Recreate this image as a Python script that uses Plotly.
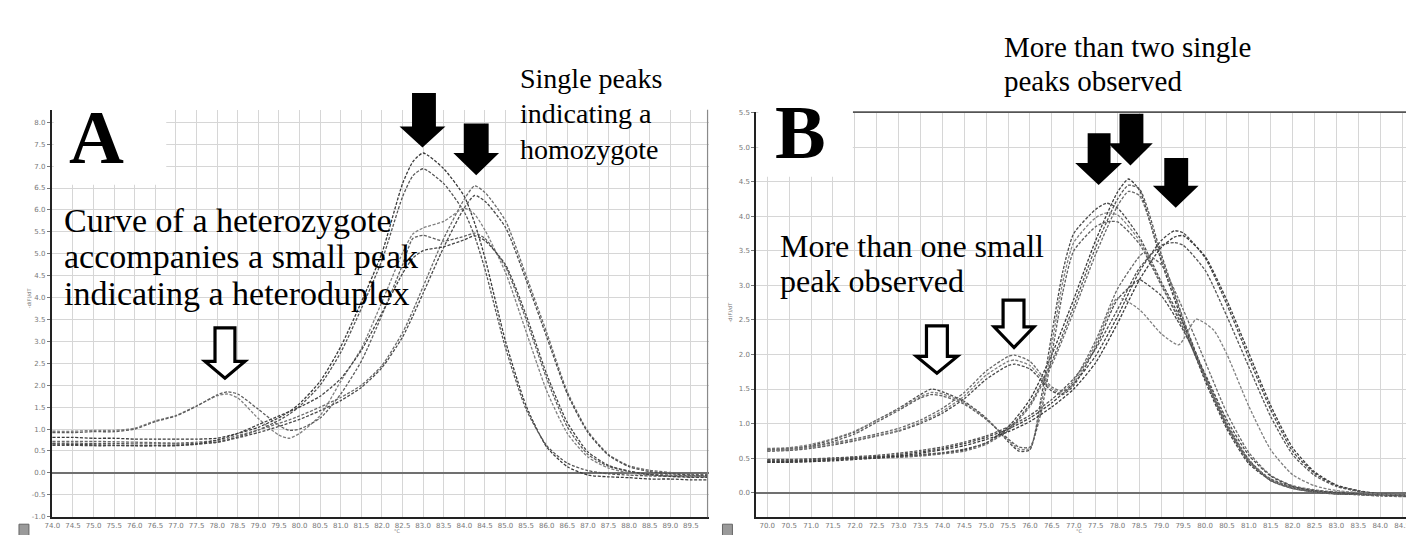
import plotly.graph_objects as go

W, H = 1414, 535

# ---------------- Panel A data ----------------
A_T = [74.0, 74.5, 75.0, 75.5, 76.0, 76.5, 77.0, 77.5, 78.0, 78.25, 78.5, 79.0, 79.5, 79.75,
       80.0, 80.5, 81.0, 81.5, 82.0, 82.5, 82.75, 83.0, 83.5, 84.0, 84.25, 84.5, 85.0, 85.5,
       86.0, 86.5, 87.0, 87.5, 88.0, 88.5, 89.0, 89.5, 89.9]
A_hom1 = [0.81, 0.81, 0.79, 0.79, 0.77, 0.77, 0.77, 0.77, 0.79, 0.84, 0.90, 1.04, 1.26, 1.40,
          1.58, 2.09, 2.88, 3.90, 5.02, 6.60, 7.10, 7.30, 6.94, 6.31, 5.70, 4.91, 3.00, 1.53,
          0.59, 0.14, -0.05, -0.09, -0.11, -0.14, -0.14, -0.16, -0.16]
A_hom2 = [0.68, 0.68, 0.67, 0.67, 0.66, 0.66, 0.66, 0.67, 0.70, 0.75, 0.82, 0.98, 1.20, 1.34,
          1.52, 2.00, 2.75, 3.75, 4.85, 6.30, 6.78, 6.94, 6.60, 5.95, 5.40, 4.65, 2.85, 1.45,
          0.62, 0.22, 0.05, -0.02, -0.05, -0.07, -0.08, -0.09, -0.09]
A_hom3 = [0.72, 0.72, 0.72, 0.71, 0.70, 0.69, 0.68, 0.70, 0.74, 0.79, 0.85, 0.98, 1.13, 1.21,
          1.30, 1.50, 1.72, 2.00, 2.45, 3.20, 3.70, 4.25, 5.35, 6.25, 6.55, 6.40, 5.75, 4.50,
          3.20, 1.85, 0.95, 0.42, 0.16, 0.06, 0.01, -0.03, -0.04]
A_hom4 = [0.63, 0.63, 0.62, 0.62, 0.62, 0.62, 0.63, 0.65, 0.70, 0.75, 0.80, 0.92, 1.06, 1.14,
          1.22, 1.42, 1.65, 1.95, 2.40, 3.10, 3.58, 4.10, 5.15, 6.05, 6.33, 6.20, 5.60, 4.40,
          3.10, 1.80, 0.92, 0.40, 0.14, 0.03, -0.02, -0.05, -0.06]
A_het1 = [0.95, 0.95, 0.97, 0.97, 1.02, 1.19, 1.31, 1.53, 1.76, 1.80, 1.71, 1.24, 0.86, 0.79,
          0.90, 1.31, 2.09, 2.84, 3.90, 5.02, 5.45, 5.59, 5.74, 6.04, 5.90, 5.54, 4.57, 3.22,
          1.87, 0.90, 0.36, 0.11, 0.00, -0.05, -0.07, -0.07, -0.09]
A_het2 = [0.92, 0.92, 0.94, 0.94, 1.00, 1.17, 1.30, 1.52, 1.78, 1.85, 1.80, 1.45, 1.08, 0.97,
          1.00, 1.25, 1.80, 2.55, 3.60, 4.75, 5.35, 5.42, 5.29, 5.40, 5.47, 5.35, 4.70, 3.50,
          2.15, 1.05, 0.42, 0.15, 0.03, -0.03, -0.05, -0.06, -0.07]
A_het3 = [0.66, 0.65, 0.64, 0.63, 0.62, 0.62, 0.62, 0.66, 0.75, 0.82, 0.90, 1.10, 1.30, 1.40,
          1.50, 1.75, 2.15, 2.80, 3.65, 4.55, 4.90, 5.07, 5.16, 5.32, 5.41, 5.30, 4.75, 3.60,
          2.25, 1.15, 0.48, 0.17, 0.04, -0.04, -0.08, -0.10, -0.10]
A_xticks = [74.0 + 0.5 * i for i in range(32)]
A_xlabels = ["%.1f" % t for t in A_xticks]
A_yticks = [-1.0 + 0.5 * i for i in range(19)]
A_ylabels = ["%.1f" % t for t in A_yticks]

# ---------------- Panel B data ----------------
B_T_tall = [70.0, 70.5, 71.0, 71.5, 72.0, 72.5, 73.0, 73.5, 74.0, 74.5, 75.0, 75.5, 76.0, 76.5,
            77.0, 77.5, 78.0, 78.25, 78.5, 79.0, 79.5, 80.0, 80.5, 81.0, 81.5, 82.0, 82.5, 83.0,
            83.5, 84.0, 84.77]
B_tall1 = [0.45, 0.45, 0.46, 0.48, 0.50, 0.51, 0.52, 0.54, 0.57, 0.62, 0.72, 0.95, 1.35, 2.00,
           2.80, 3.65, 4.35, 4.54, 4.38, 3.35, 2.45, 1.62, 0.92, 0.42, 0.18, 0.07, 0.02, -0.01,
           -0.03, -0.04, -0.05]
B_tall2 = [0.47, 0.47, 0.48, 0.50, 0.51, 0.52, 0.53, 0.55, 0.58, 0.63, 0.72, 0.92, 1.28, 1.90,
           2.70, 3.55, 4.25, 4.45, 4.40, 3.45, 2.52, 1.68, 0.96, 0.45, 0.20, 0.08, 0.03, 0.00,
           -0.02, -0.04, -0.05]
B_tall3 = [0.44, 0.44, 0.45, 0.47, 0.49, 0.50, 0.51, 0.53, 0.56, 0.60, 0.70, 0.90, 1.25, 1.85,
           2.62, 3.45, 4.15, 4.36, 4.30, 3.40, 2.50, 1.66, 0.95, 0.44, 0.19, 0.08, 0.02, -0.01,
           -0.03, -0.05, -0.06]
B_T_left = [70.0, 70.5, 71.0, 71.5, 72.0, 72.5, 73.0, 73.5, 73.75, 74.0, 74.5, 75.0, 75.5, 75.75,
            76.0, 76.25, 76.5, 76.75, 77.0, 77.5, 77.75, 78.0, 78.5, 79.0, 79.5, 80.0, 80.5, 81.0,
            81.5, 82.0, 82.5, 83.0, 84.0, 84.77]
B_left1 = [0.62, 0.63, 0.68, 0.77, 0.88, 1.05, 1.22, 1.42, 1.50, 1.46, 1.32, 1.08, 0.74, 0.60,
           0.62, 1.35, 2.30, 3.20, 3.75, 4.10, 4.19, 4.12, 3.70, 3.05, 2.45, 1.70, 1.00, 0.48,
           0.18, 0.06, 0.01, -0.02, -0.03, -0.04]
B_left2 = [0.64, 0.65, 0.70, 0.78, 0.89, 1.05, 1.21, 1.39, 1.45, 1.43, 1.30, 1.07, 0.76, 0.63,
           0.64, 1.25, 2.15, 3.05, 3.62, 3.98, 4.05, 4.02, 3.65, 3.02, 2.40, 1.68, 0.98, 0.47,
           0.18, 0.06, 0.01, -0.02, -0.03, -0.04]
B_left3 = [0.61, 0.62, 0.66, 0.74, 0.85, 1.02, 1.19, 1.37, 1.42, 1.40, 1.28, 1.06, 0.78, 0.66,
           0.66, 1.15, 2.00, 2.90, 3.50, 3.85, 3.92, 3.92, 3.60, 3.00, 2.38, 1.66, 0.97, 0.46,
           0.17, 0.06, 0.01, -0.02, -0.03, -0.05]
B_T_right = [70.0, 70.5, 71.0, 71.5, 72.0, 72.5, 73.0, 73.5, 74.0, 74.5, 75.0, 75.5, 76.0, 76.5,
             77.0, 77.5, 78.0, 78.5, 79.0, 79.3, 79.5, 80.0, 80.5, 81.0, 81.5, 82.0, 82.5, 83.0,
             83.5, 84.0, 84.77]
B_right1 = [0.46, 0.46, 0.47, 0.48, 0.50, 0.52, 0.55, 0.59, 0.64, 0.71, 0.80, 0.92, 1.08, 1.30,
            1.58, 1.98, 2.55, 3.20, 3.65, 3.79, 3.76, 3.40, 2.72, 1.95, 1.20, 0.60, 0.28, 0.10,
            0.02, -0.02, -0.05]
B_right2 = [0.44, 0.44, 0.45, 0.46, 0.48, 0.50, 0.53, 0.57, 0.62, 0.68, 0.77, 0.88, 1.03, 1.24,
            1.50, 1.88, 2.45, 3.08, 3.55, 3.70, 3.72, 3.42, 2.78, 2.02, 1.26, 0.65, 0.30, 0.11,
            0.03, -0.02, -0.05]
B_right3 = [0.48, 0.48, 0.49, 0.50, 0.52, 0.54, 0.57, 0.61, 0.66, 0.73, 0.82, 0.95, 1.12, 1.35,
            1.65, 2.08, 2.65, 3.25, 3.58, 3.62, 3.58, 3.22, 2.55, 1.82, 1.10, 0.55, 0.25, 0.09,
            0.02, -0.02, -0.04]
B_T_mid = [70.0, 70.5, 71.0, 71.5, 72.0, 72.5, 73.0, 73.5, 74.0, 74.5, 75.0, 75.5, 75.65, 76.0,
           76.5, 76.75, 77.0, 77.5, 78.0, 78.5, 78.6, 79.0, 79.5, 80.0, 80.5, 81.0, 81.5, 82.0,
           82.5, 83.0, 84.0, 84.77]
B_mid1 = [0.63, 0.64, 0.67, 0.72, 0.78, 0.85, 0.93, 1.05, 1.22, 1.45, 1.76, 1.97, 1.99, 1.90,
          1.53, 1.47, 1.62, 2.20, 2.95, 3.42, 3.47, 3.30, 2.65, 1.90, 1.15, 0.58, 0.25, 0.10,
          0.04, 0.01, -0.02, -0.04]
B_mid2 = [0.60, 0.61, 0.64, 0.69, 0.75, 0.82, 0.89, 1.00, 1.15, 1.36, 1.64, 1.84, 1.86, 1.79,
          1.47, 1.42, 1.55, 2.10, 2.80, 3.08, 3.05, 2.85, 2.35, 1.72, 1.05, 0.54, 0.24, 0.09,
          0.03, 0.00, -0.02, -0.04]
B_T_dbl = [70.0, 70.5, 71.0, 71.5, 72.0, 72.5, 73.0, 73.5, 74.0, 74.5, 75.0, 75.5, 75.65, 76.0,
           76.5, 76.75, 77.0, 77.5, 78.0, 78.5, 79.0, 79.4, 79.8, 80.2, 80.5, 81.0, 81.5, 82.0,
           82.5, 83.0, 84.0, 84.77]
B_dbl = [0.61, 0.62, 0.65, 0.70, 0.76, 0.83, 0.90, 1.02, 1.18, 1.40, 1.70, 1.90, 1.92, 1.84,
         1.50, 1.44, 1.58, 2.15, 2.82, 2.65, 2.30, 2.14, 2.51, 2.35, 2.00, 1.25, 0.62, 0.26,
         0.10, 0.03, -0.02, -0.04]
B_xticks = [70.0 + 0.5 * i for i in range(30)]
B_xlabels = ["%.1f" % t for t in B_xticks]
B_yticks = [0.5 * i for i in range(12)]
B_ylabels = ["%.1f" % t for t in B_yticks]

# ---------------- helpers (pixel -> paper) ----------------
def px(x):
    return x / W

def py(y):
    return 1 - y / H

fig = go.Figure()

line_colors = ["#3a3a3a", "#555555", "#6a6a6a", "#4a4a4a", "#808080", "#5e5e5e", "#444444"]
dash = "3px,1.6px"

A_series = [A_hom1, A_hom2, A_hom3, A_hom4, A_het1, A_het2, A_het3]
for i, s in enumerate(A_series):
    fig.add_trace(go.Scatter(x=A_T, y=s, mode="lines", xaxis="x", yaxis="y",
                             line=dict(color=line_colors[i % len(line_colors)], width=1.3,
                                       dash=dash, shape="spline", smoothing=0.6),
                             hoverinfo="skip", showlegend=False))

B_series = [(B_T_tall, B_tall1), (B_T_tall, B_tall2), (B_T_tall, B_tall3),
            (B_T_left, B_left1), (B_T_left, B_left2), (B_T_left, B_left3),
            (B_T_right, B_right1), (B_T_right, B_right2), (B_T_right, B_right3),
            (B_T_mid, B_mid1), (B_T_mid, B_mid2), (B_T_dbl, B_dbl)]
for i, (t, s) in enumerate(B_series):
    fig.add_trace(go.Scatter(x=t, y=s, mode="lines", xaxis="x2", yaxis="y2",
                             line=dict(color=line_colors[i % len(line_colors)], width=1.3,
                                       dash=dash, shape="spline", smoothing=0.6),
                             hoverinfo="skip", showlegend=False))

grid = "#d6d6d6"
tickfont = dict(family="DejaVu Sans", size=7, color="#777777")

fig.update_layout(
    width=W, height=H, margin=dict(l=0, r=0, t=0, b=0),
    paper_bgcolor="white", plot_bgcolor="white",
    xaxis=dict(domain=[px(37), px(697)], range=[73.986, 89.928], tickvals=A_xticks,
               ticktext=A_xlabels, showgrid=True, gridcolor=grid, gridwidth=1,
               showline=True, linecolor="#222", linewidth=2, zeroline=False,
               tickfont=tickfont, ticks="", anchor="y"),
    yaxis=dict(domain=[py(513), py(100)], range=[-1.0135, 8.288], tickvals=A_yticks,
               ticktext=A_ylabels, showgrid=True, gridcolor=grid, gridwidth=1,
               showline=True, linecolor="#222", linewidth=2, zeroline=True,
               zerolinecolor="#707070", zerolinewidth=1.5, tickfont=tickfont,
               ticks="outside", ticklen=3, tickcolor="#777", anchor="x"),
    xaxis2=dict(domain=[px(745), px(1406)], range=[69.75, 84.773], tickvals=B_xticks,
                ticktext=B_xlabels, showgrid=True, gridcolor=grid, gridwidth=1,
                showline=True, linecolor="#222", linewidth=2, zeroline=False,
                tickfont=tickfont, ticks="", anchor="y2"),
    yaxis2=dict(domain=[py(513), py(102)], range=[-0.357, 5.515], tickvals=B_yticks,
                ticktext=B_ylabels, showgrid=True, gridcolor=grid, gridwidth=1,
                showline=True, linecolor="#222", linewidth=2, zeroline=True,
                zerolinecolor="#707070", zerolinewidth=1.5, tickfont=tickfont,
                ticks="outside", ticklen=3, tickcolor="#777", anchor="x2"),
)

shapes = []
# right borders
shapes.append(dict(type="line", xref="paper", yref="paper", x0=px(696), x1=px(696),
                   y0=py(513), y1=py(100), line=dict(color="#8a8a8a", width=1.2)))
shapes.append(dict(type="line", xref="paper", yref="paper", x0=px(1406), x1=px(1406),
                   y0=py(513), y1=py(102), line=dict(color="#8a8a8a", width=1.2)))
# B top border
shapes.append(dict(type="line", xref="paper", yref="paper", x0=px(842), x1=px(1406),
                   y0=py(102.5), y1=py(102.5), line=dict(color="#555", width=1.6)))
# white boxes behind the panel letters
shapes.append(dict(type="rect", xref="paper", yref="paper", x0=px(39), x1=px(152),
                   y0=py(176), y1=py(99), fillcolor="white", line=dict(width=0)))
shapes.append(dict(type="rect", xref="paper", yref="paper", x0=px(747), x1=px(842),
                   y0=py(168), y1=py(101), fillcolor="white", line=dict(width=0)))

def down_arrow(xl, xr, ytop, hl, hr, yhead, ytip, hollow=False):
    xc = (hl + hr) / 2
    pts = [(xl, ytop), (xr, ytop), (xr, yhead), (hr, yhead), (xc, ytip), (hl, yhead),
           (xl, yhead)]
    path = "M " + " L ".join("%.5f,%.5f" % (px(a), py(b)) for a, b in pts) + " Z"
    if hollow:
        return dict(type="path", xref="paper", yref="paper", path=path, fillcolor="white",
                    line=dict(color="black", width=3.2))
    return dict(type="path", xref="paper", yref="paper", path=path, fillcolor="black",
                line=dict(color="black", width=2))

# panel A arrows
shapes.append(down_arrow(400, 422, 84, 389, 430, 118, 137))
shapes.append(down_arrow(452, 475, 115, 443, 484, 145, 165))
shapes.append(down_arrow(201, 221, 321, 191, 231, 355, 372, hollow=True))
# panel B arrows
shapes.append(down_arrow(1079, 1100, 125, 1068, 1110, 155, 175))
shapes.append(down_arrow(1111, 1133, 105, 1101, 1141, 135, 155))
shapes.append(down_arrow(1156, 1178, 150, 1146, 1187, 178, 198))
shapes.append(down_arrow(916, 937, 319, 906, 947, 350, 367, hollow=True))
shapes.append(down_arrow(993, 1014, 293, 984, 1024, 320, 341, hollow=True))
# small corner icons
shapes.append(dict(type="rect", xref="paper", yref="paper", x0=px(4), x1=px(14),
                   y0=py(533), y1=py(520), fillcolor="#9a9a9a", line=dict(color="#666", width=1)))
shapes.append(dict(type="rect", xref="paper", yref="paper", x0=px(711), x1=px(721),
                   y0=py(533), y1=py(520), fillcolor="#9a9a9a", line=dict(color="#666", width=1)))
fig.update_layout(shapes=shapes)

serif = "Liberation Serif"
ann = []

def text(s, x, y, size=31, bold=False):
    ann.append(dict(text=("<b>%s</b>" % s) if bold else s, x=px(x), y=py(y), xref="paper",
                    yref="paper", xanchor="left", yanchor="middle", showarrow=False,
                    font=dict(family=serif, size=size, color="black")))

text("A", 52, 128, size=76, bold=True)
text("B", 762, 123, size=76, bold=True)
text("Single peaks", 506, 68, size=28)
text("indicating a", 506, 104, size=28)
text("homozygote", 506, 140, size=28)
text("Curve of a heterozygote", 47, 212, size=34)
text("accompanies a small peak", 47, 249, size=34)
text("indicating a heteroduplex", 47, 286, size=34)
text("More than two single", 992, 36, size=29)
text("peaks observed", 992, 71, size=29)
text("More than one small", 767, 238, size=32)
text("peak observed", 767, 274, size=32)

# tiny axis titles
small = dict(family="DejaVu Sans", size=5, color="#777")
ann.append(dict(text="°C", x=px(379), y=py(532), xref="paper", yref="paper", showarrow=False,
                font=small))
ann.append(dict(text="°C", x=px(1075), y=py(532), xref="paper", yref="paper", showarrow=False,
                font=small))
ann.append(dict(text="-d(F)/dT", x=px(9), y=py(290), xref="paper", yref="paper",
                showarrow=False, textangle=-90, font=small))
ann.append(dict(text="-d(F)/dT", x=px(719), y=py(305), xref="paper", yref="paper",
                showarrow=False, textangle=-90, font=small))
fig.update_layout(annotations=ann)

fig.write_html("out.html")
